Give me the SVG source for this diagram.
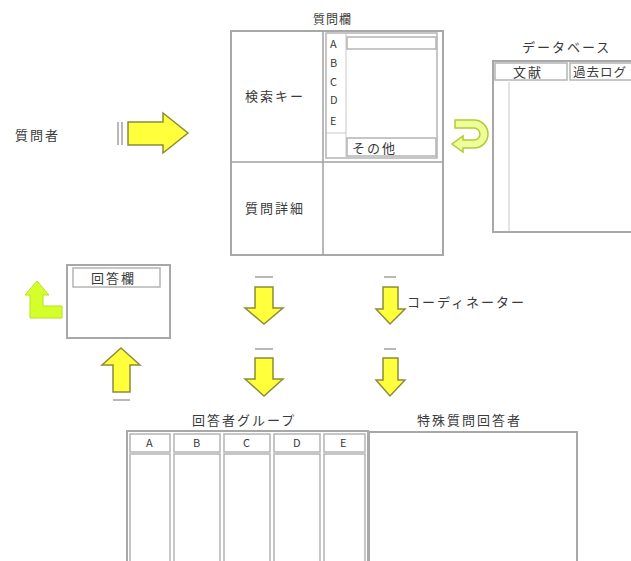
<svg xmlns="http://www.w3.org/2000/svg" width="631" height="561" viewBox="0 0 631 561">
<style>
  text { font-family: "Noto Sans CJK JP", "Liberation Sans", sans-serif; fill: #3a3a3a; }
  .t { font-size: 13px; letter-spacing: 2px; }
  .s { font-size: 11px; }
  .box { fill: #ffffff; stroke: #a8a8a8; stroke-width: 2; }
  .cell { fill: #ffffff; stroke: #b4b4b4; stroke-width: 1.5; }
  .thin { fill: none; stroke: #c8c8c8; stroke-width: 1; }
  .arr { fill: #ffff3c; stroke: #8c8c3a; stroke-width: 1.5; stroke-linejoin: miter; }
  .lime { fill: #d4ff2a; stroke: #b8e020; stroke-width: 1; }
  .dash { stroke: #a0a0a0; stroke-width: 1.5; }
</style>
<rect width="631" height="561" fill="#ffffff"/>

<g id="questioner">
  <text class="t" x="15" y="140">質問者</text>
</g>

<g id="question-box">
  <text class="t" x="313" y="24" style="font-size:12px;letter-spacing:1px">質問欄</text>
  <rect class="box" x="231" y="31" width="212" height="224"/>
  <line class="dash" x1="323" y1="31" x2="323" y2="255"/>
  <line class="dash" x1="231" y1="162" x2="443" y2="162"/>
  <rect class="cell" x="326" y="33" width="111" height="125"/>
  <line class="thin" x1="346" y1="34" x2="346" y2="157"/>
  <rect class="cell" x="347" y="37" width="89" height="12"/>
  <rect class="cell" x="347" y="138" width="89" height="18"/>
  <line class="thin" x1="327" y1="133" x2="346" y2="133"/>
  <text class="s" x="330" y="48">A</text>
  <text class="s" x="330" y="67">B</text>
  <text class="s" x="330" y="86">C</text>
  <text class="s" x="330" y="104">D</text>
  <text class="s" x="330" y="125">E</text>
  <text class="t" x="352" y="153">その他</text>
  <text class="t" x="245" y="101">検索キー</text>
  <text class="t" x="245" y="213">質問詳細</text>
</g>

<g id="database">
  <text class="t" x="522" y="52">データベース</text>
  <rect class="box" x="493" y="61" width="150" height="171"/>
  <rect class="cell" x="495" y="63" width="72" height="17"/>
  <rect class="cell" x="570" y="63" width="70" height="17"/>
  <line class="thin" x1="509" y1="82" x2="509" y2="231"/>
  <text class="t" x="513" y="77">文献</text>
  <text class="t" x="573" y="77" style="font-size:12.5px;letter-spacing:1px">過去ログ</text>
</g>

<g id="answer-box">
  <rect class="box" x="67" y="265" width="103" height="73"/>
  <rect class="cell" x="73" y="268" width="87" height="19"/>
  <text class="t" x="91" y="283">回答欄</text>
</g>

<g id="coordinator">
  <text class="t" x="407" y="307">コーディネーター</text>
</g>

<g id="answerer-group">
  <text class="t" x="192" y="425">回答者グループ</text>
  <rect class="box" x="127" y="431" width="241" height="140"/>
  <rect class="cell" x="130" y="434" width="40" height="18"/>
  <rect class="cell" x="130" y="454" width="40" height="110"/>
  <rect class="cell" x="174" y="434" width="46" height="18"/>
  <rect class="cell" x="174" y="454" width="46" height="110"/>
  <rect class="cell" x="224" y="434" width="46" height="18"/>
  <rect class="cell" x="224" y="454" width="46" height="110"/>
  <rect class="cell" x="274" y="434" width="46" height="18"/>
  <rect class="cell" x="274" y="454" width="46" height="110"/>
  <rect class="cell" x="324" y="434" width="41" height="18"/>
  <rect class="cell" x="324" y="454" width="41" height="110"/>
  <text class="s" x="146" y="447">A</text>
  <text class="s" x="193" y="447">B</text>
  <text class="s" x="243" y="447">C</text>
  <text class="s" x="293" y="447">D</text>
  <text class="s" x="340" y="447">E</text>
</g>

<g id="special-answerer">
  <text class="t" x="417" y="425">特殊質問回答者</text>
  <rect class="box" x="369" y="432" width="208" height="140"/>
</g>

<g id="connectors">
  <line class="dash" x1="118" y1="122" x2="118" y2="145"/>
  <line class="dash" x1="122" y1="122" x2="122" y2="145"/>
  <polygon class="arr" points="128,122 163,122 163,113 188,133 163,153 163,145 128,145"/>

  <path d="M455,120 L474,120 A14,14 0 0 1 474,148 L463,148 L463,152 L452,144 L463,136 L463,140 L474,140 A6,6 0 0 0 474,128 L455,128 Z" fill="#eeff99" stroke="#b0cc33" stroke-width="1.5"/>

  <polygon class="lime" points="37,281 49,295 43,295 43,306 62,306 62,318 30,318 30,295 25,295"/>

  <polygon class="arr" points="121,348 140,365 130,365 130,392 113,392 113,365 102,365"/>
  <line class="dash" x1="113" y1="400" x2="130" y2="400"/>

  <line class="dash" x1="255" y1="277" x2="273" y2="277"/>
  <polygon class="arr" points="255,287 273,287 273,308 283,308 264,324 245,308 255,308"/>
  <line class="dash" x1="255" y1="349" x2="273" y2="349"/>
  <polygon class="arr" points="255,358 273,358 273,379 283,379 264,396 245,379 255,379"/>

  <line class="dash" x1="384" y1="277" x2="396" y2="277"/>
  <polygon class="arr" points="383,287 398,287 398,309 405,309 390,324 376,309 383,309"/>
  <line class="dash" x1="384" y1="349" x2="396" y2="349"/>
  <polygon class="arr" points="383,358 398,358 398,380 405,380 390,396 376,380 383,380"/>
</g>
</svg>
